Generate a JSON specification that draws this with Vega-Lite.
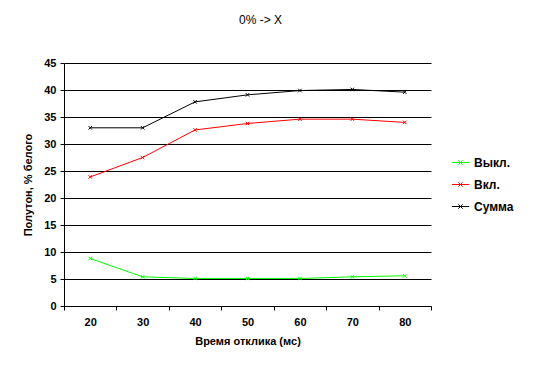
{
  "$schema": "https://vega.github.io/schema/vega-lite/v6.json",
  "width": 367,
  "height": 243,
  "autosize": {"type": "none"},
  "padding": {"left": 64, "top": 63, "right": 105, "bottom": 67},
  "background": "white",
  "title": {"text": "0% -> X", "font": "Liberation Sans", "fontSize": 12, "fontWeight": "normal", "color": "black", "anchor": "middle", "dx": 13, "offset": 30},
  "config": {
    "view": {"stroke": null},
    "font": "Liberation Sans",
    "axis": {"labelFont": "Liberation Sans", "titleFont": "Liberation Sans", "labelFontWeight": "bold", "titleFontWeight": "bold", "labelFontSize": 11, "titleFontSize": 11, "labelColor": "black", "titleColor": "black", "domainColor": "black", "tickColor": "black", "tickSize": 4}
  },
  "data": {"values": [
    {"series": "Выкл.", "t": 20, "v": 8.8},
    {"series": "Выкл.", "t": 30, "v": 5.4},
    {"series": "Выкл.", "t": 40, "v": 5.1},
    {"series": "Выкл.", "t": 50, "v": 5.1},
    {"series": "Выкл.", "t": 60, "v": 5.1},
    {"series": "Выкл.", "t": 70, "v": 5.4},
    {"series": "Выкл.", "t": 80, "v": 5.6},
    {"series": "Вкл.", "t": 20, "v": 23.9},
    {"series": "Вкл.", "t": 30, "v": 27.5},
    {"series": "Вкл.", "t": 40, "v": 32.6},
    {"series": "Вкл.", "t": 50, "v": 33.8},
    {"series": "Вкл.", "t": 60, "v": 34.6},
    {"series": "Вкл.", "t": 70, "v": 34.6},
    {"series": "Вкл.", "t": 80, "v": 34.0},
    {"series": "Сумма", "t": 20, "v": 33.0},
    {"series": "Сумма", "t": 30, "v": 33.0},
    {"series": "Сумма", "t": 40, "v": 37.8},
    {"series": "Сумма", "t": 50, "v": 39.1},
    {"series": "Сумма", "t": 60, "v": 39.9},
    {"series": "Сумма", "t": 70, "v": 40.1},
    {"series": "Сумма", "t": 80, "v": 39.6}
  ]},
  "encoding": {
    "x": {"field": "t", "type": "ordinal", "scale": {"type": "band", "paddingInner": 0, "paddingOuter": 0},
      "axis": {"title": "Время отклика (мс)", "labelAngle": 0, "tickBand": "extent", "grid": false, "labelPadding": 6, "titlePadding": 8}},
    "y": {"field": "v", "type": "quantitative", "scale": {"domain": [0, 45], "nice": false},
      "axis": {"title": "Полутон, % белого", "values": [0,5,10,15,20,25,30,35,40,45], "grid": true, "gridColor": "black", "gridOpacity": 1, "labelPadding": 4, "titlePadding": 10}},
    "color": {"field": "series", "type": "nominal",
      "scale": {"domain": ["Выкл.", "Вкл.", "Сумма"], "range": ["#00FF00", "#FF0000", "#000000"]},
      "legend": {"title": null, "orient": "none", "legendX": 387, "legendY": 90, "labelFont": "Liberation Sans", "labelFontSize": 12, "labelFontWeight": "bold", "labelColor": "black", "rowPadding": 6,
        "symbolType": "M-1,0H1M-0.25,-0.25L0.25,0.25M-0.25,0.25L0.25,-0.25", "symbolSize": 300, "symbolStrokeWidth": 1, "symbolFillColor": "transparent"}}
  },
  "layer": [
    {"mark": {"type": "line", "strokeWidth": 1}},
    {"mark": {"type": "point", "shape": "M-1,-1L1,1M-1,1L1,-1", "filled": false, "size": 12, "strokeWidth": 1, "opacity": 1}}
  ]
}
